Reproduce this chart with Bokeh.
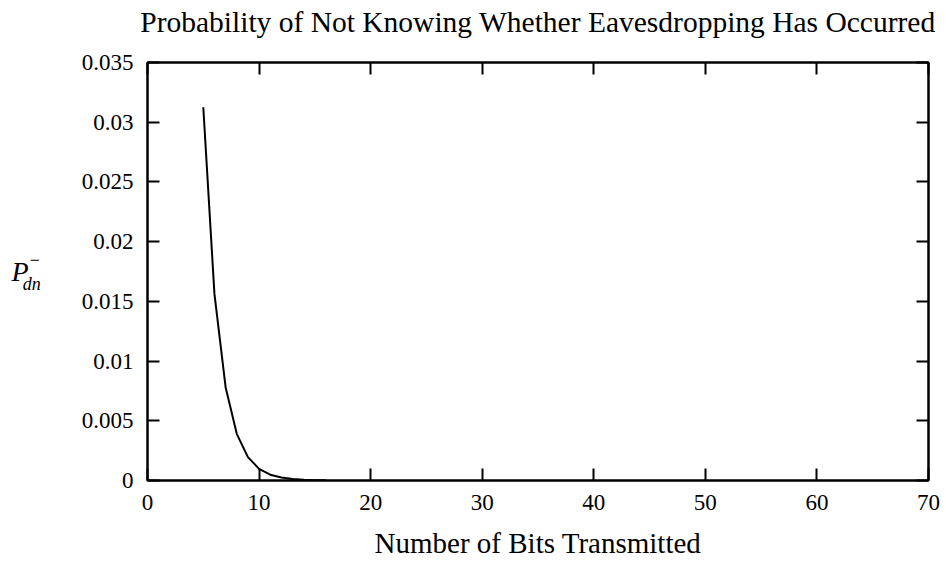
from bokeh.plotting import figure
from bokeh.models import (Range1d, LinearAxis, FixedTicker, CustomJSTickFormatter)
from bokeh.embed import file_html
from bokeh.resources import INLINE

# Data
bits = [5, 6, 7, 8, 9, 10, 11, 12, 13, 14, 15, 16]
prob = [0.03125, 0.015625, 0.0078125, 0.00390625, 0.001953125, 0.0009765625,
        0.00048828125, 0.000244140625, 0.0001220703125, 0.000061035,
        0.000030518, 0.000015259]
x_ticks = [0, 10, 20, 30, 40, 50, 60, 70]
y_ticks = [0, 0.005, 0.01, 0.015, 0.02, 0.025, 0.03, 0.035]
title_text = "Probability of Not Knowing Whether Eavesdropping Has Occurred"
x_label = "Number of Bits Transmitted"
y_label_main = "P"
y_label_scripts = "\u2212\ndn"

FONT = "Liberation Serif"

p = figure(width=946, height=561, output_backend="svg", toolbar_location=None,
           x_range=Range1d(0, 70), y_range=Range1d(0, 0.035),
           min_border_left=147, min_border_right=18, min_border_top=62,
           min_border_bottom=81, x_axis_location=None, y_axis_location=None)
p.grid.visible = False
p.outline_line_color = "black"
p.outline_line_width = 2
p.background_fill_color = "white"
p.border_fill_color = "white"

fmt = CustomJSTickFormatter(code="return String(Number(tick.toFixed(4)));")
blank = CustomJSTickFormatter(code="return '';")

def make_axis(ticks, show_labels):
    ax = LinearAxis(ticker=FixedTicker(ticks=ticks), formatter=fmt if show_labels else blank)
    ax.axis_line_width = 2
    ax.axis_line_color = "black"
    ax.major_tick_in = 12
    ax.major_tick_out = 0
    ax.major_tick_line_width = 2
    ax.minor_tick_line_color = None
    ax.major_label_text_font = FONT
    if show_labels:
        ax.major_label_text_font_size = "23px"
        ax.major_label_text_color = "black"
    else:
        ax.major_label_text_font_size = "1px"
        ax.major_label_text_color = None
        ax.major_label_standoff = 0
    return ax

bottom = make_axis(x_ticks, True)
bottom.major_label_standoff = 14
bottom.axis_label = x_label
bottom.axis_label_text_font = FONT
bottom.axis_label_text_font_size = "29px"
bottom.axis_label_text_font_style = "normal"
bottom.axis_label_text_color = "black"
bottom.axis_label_standoff = 14

left = make_axis(y_ticks, True)
left.major_label_standoff = 14
left.axis_label = y_label_scripts
left.axis_label_orientation = "horizontal"
left.axis_label_text_font = FONT
left.axis_label_text_font_size = "18px"
left.axis_label_text_font_style = "italic"
left.axis_label_text_color = "black"
left.axis_label_standoff = 38

# outer left axis that only carries the main letter of the y label
left2 = LinearAxis(ticker=FixedTicker(ticks=[]), formatter=blank)
left2.axis_line_color = None
left2.major_tick_line_color = None
left2.minor_tick_line_color = None
left2.major_label_text_color = None
left2.major_label_text_font_size = "1px"
left2.major_label_standoff = 0
left2.axis_label = y_label_main
left2.axis_label_orientation = "horizontal"
left2.axis_label_text_font = FONT
left2.axis_label_text_font_size = "28px"
left2.axis_label_text_font_style = "italic"
left2.axis_label_text_color = "black"
left2.axis_label_standoff = -9

# top axis: mirrored ticks, and the chart title as its label
top = make_axis(x_ticks, False)
top.axis_label = title_text
top.axis_label_text_font = FONT
top.axis_label_text_font_size = "29.5px"
top.axis_label_text_font_style = "normal"
top.axis_label_text_color = "black"
top.axis_label_standoff = 25

right = make_axis(y_ticks, False)
p.add_layout(bottom, "below")
p.add_layout(left, "left")
p.add_layout(left2, "left")
p.add_layout(top, "above")
p.add_layout(right, "right")

p.line(bits, prob, line_color="black", line_width=2)

open("out.html", "w").write(file_html(p, INLINE))
